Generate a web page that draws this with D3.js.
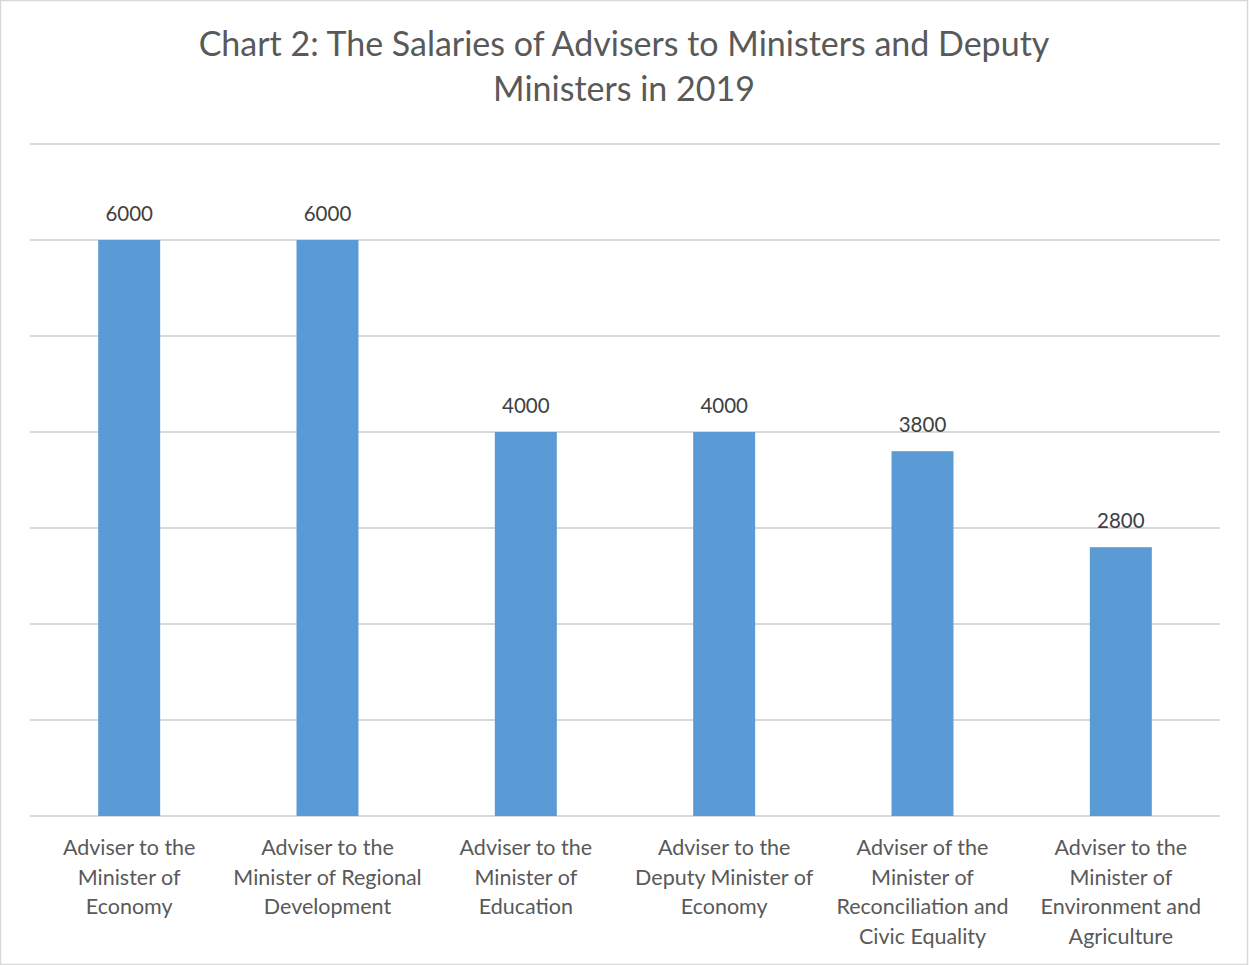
<!DOCTYPE html>
<html><head><meta charset="utf-8">
<script src="https://cdn.jsdelivr.net/npm/d3@7"></script>
<style>
html,body{margin:0;padding:0;background:#fff;}
svg{display:block;}
text{font-family:Lato, "Open Sans", sans-serif;}
</style></head>
<body>
<script>
const titleLines = ["Chart 2: The Salaries of Advisers to Ministers and Deputy", "Ministers in 2019"];
const categories = [
  "Adviser to the\nMinister of\nEconomy",
  "Adviser to the\nMinister of Regional\nDevelopment",
  "Adviser to the\nMinister of\nEducation",
  "Adviser to the\nDeputy Minister of\nEconomy",
  "Adviser of the\nMinister of\nReconciliation and\nCivic Equality",
  "Adviser to the\nMinister of\nEnvironment and\nAgriculture"
];
const salaries = [6000, 6000, 4000, 4000, 3800, 2800];
const yTicks = [0, 1000, 2000, 3000, 4000, 5000, 6000, 7000];

const W = 1249, H = 965;
const svg = d3.select("body").append("svg").attr("width", W).attr("height", H);

svg.append("rect").attr("x", 0.5).attr("y", 0.5).attr("width", W - 2).attr("height", H - 1)
  .attr("fill", "#fff").attr("stroke", "#d9d9d9").attr("stroke-width", 1.5);

const x = d3.scaleBand().domain(categories).range([30, 1220]).paddingInner(0.6875).paddingOuter(0.34375);
const y = d3.scaleLinear().domain([0, 7000]).range([816, 144]);

// gridlines
svg.append("g").selectAll("line").data(yTicks).join("line")
  .attr("x1", 30).attr("x2", 1220)
  .attr("y1", d => y(d)).attr("y2", d => y(d))
  .attr("stroke", "#d9d9d9").attr("stroke-width", 2);

// bars
svg.append("g").selectAll("rect").data(salaries).join("rect")
  .attr("x", (d, i) => x(categories[i]))
  .attr("width", x.bandwidth())
  .attr("y", d => y(d))
  .attr("height", d => y(0) - y(d))
  .attr("fill", "#5b9bd5");

// data labels
svg.append("g").selectAll("text").data(salaries).join("text")
  .attr("x", (d, i) => x(categories[i]) + x.bandwidth() / 2)
  .attr("y", d => y(d) - 19)
  .attr("text-anchor", "middle")
  .attr("font-size", 20.5)
  .attr("fill", "#404040")
  .text(d => d);

// category axis labels
const catG = svg.append("g");
categories.forEach(c => {
  const t = catG.append("text")
    .attr("text-anchor", "middle")
    .attr("font-size", 21.5)
    .attr("fill", "#595959");
  c.split("\n").forEach((ln, j) => {
    t.append("tspan")
      .attr("x", x(c) + x.bandwidth() / 2)
      .attr("y", 855 + j * 29.5)
      .text(ln);
  });
});

// title
svg.append("g").selectAll("text").data(titleLines).join("text")
  .attr("x", 624)
  .attr("y", (d, i) => 56 + i * 45)
  .attr("text-anchor", "middle")
  .attr("font-size", 34)
  .attr("fill", "#595959")
  .text(d => d);
</script>
</body></html>
